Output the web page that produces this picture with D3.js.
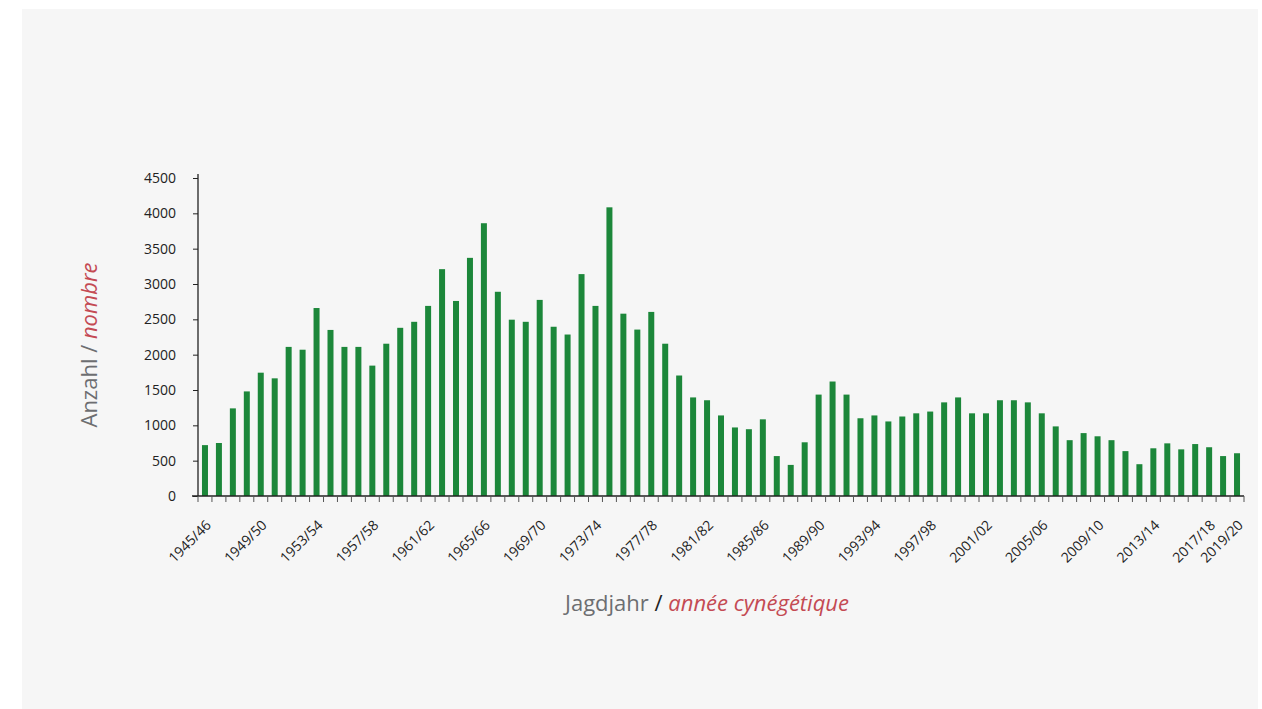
<!DOCTYPE html>
<html>
<head>
<meta charset="utf-8">
<script src="https://cdn.jsdelivr.net/npm/d3@7"></script>
<style>
  body { margin: 0; background: #fff; }
  svg { display: block; }
  text { font-family: "Open Sans", "DejaVu Sans", sans-serif; }
</style>
</head>
<body>
<svg id="chart" width="1262" height="709"></svg>
<script>
// hunting years 1945/46 .. 2019/20
const startYears = d3.range(1945, 2020);
const seasons = startYears.map(y => y + "/" + String((y + 1) % 100).padStart(2, "0"));

const counts = [
  720, 750, 1240, 1480, 1745, 1665, 2110, 2070, 2660, 2350,
  2110, 2110, 1845, 2155, 2380, 2465, 2690, 3210, 2760, 3370,
  3860, 2890, 2495, 2465, 2775, 2395, 2285, 3140, 2690, 4085,
  2580, 2355, 2605, 2155, 1705, 1395, 1355, 1140, 970, 945,
  1085, 565, 440, 760, 1435, 1620, 1435, 1100, 1140, 1055,
  1125, 1170, 1195, 1325, 1395, 1170, 1170, 1355, 1355, 1325,
  1170, 985, 790, 890, 845, 790, 635, 450, 675, 745,
  660, 735, 690, 565, 605
];

const yTicks = [0, 500, 1000, 1500, 2000, 2500, 3000, 3500, 4000, 4500];
const labelled = seasons.filter((s, i) => i % 4 === 0 || i === seasons.length - 1);

const svg = d3.select("#chart");

// panel
svg.append("rect")
  .attr("x", 22).attr("y", 9)
  .attr("width", 1236).attr("height", 700)
  .attr("fill", "#f6f6f6");

const plotLeft = 198, plotRight = 1244, plotTop = 178, plotBottom = 496;

const x = d3.scaleBand()
  .domain(seasons)
  .range([plotLeft, plotRight])
  .paddingInner(0.57)
  .paddingOuter(0.285);

const y = d3.scaleLinear()
  .domain([0, 4500])
  .range([plotBottom, plotTop]);

const step = x.step();

// bars
svg.append("g")
  .selectAll("rect")
  .data(counts)
  .join("rect")
  .attr("x", (d, i) => x(seasons[i]))
  .attr("y", d => y(d))
  .attr("width", x.bandwidth())
  .attr("height", d => y(0) - y(d))
  .attr("fill", "#1c873a");

// y axis
const yAxis = svg.append("g")
  .attr("transform", `translate(${plotLeft},0)`)
  .call(d3.axisLeft(y).tickValues(yTicks).tickFormat(d3.format("d")).tickSize(5).tickPadding(17));
yAxis.select(".domain").attr("stroke", "#222").attr("stroke-width", 1.3)
  .attr("d", `M0,${plotTop - 4}V${plotBottom}`);
yAxis.selectAll(".tick line").attr("stroke", "#222");
yAxis.selectAll(".tick text")
  .attr("fill", "#222")
  .style("font-size", "14px");

// x axis line and ticks at band boundaries
const xg = svg.append("g");
xg.append("line")
  .attr("x1", plotLeft - 6).attr("x2", plotRight)
  .attr("y1", plotBottom).attr("y2", plotBottom)
  .attr("stroke", "#222").attr("stroke-width", 1.3);
xg.selectAll("line.tk")
  .data(seasons.concat(["end"]))
  .join("line")
  .attr("class", "tk")
  .attr("x1", (d, i) => plotLeft + i * step)
  .attr("x2", (d, i) => plotLeft + i * step)
  .attr("y1", plotBottom).attr("y2", plotBottom + 6)
  .attr("stroke", "#555");

xg.selectAll("text")
  .data(labelled)
  .join("text")
  .attr("transform", d => `translate(${x(d) + x.bandwidth() / 2 + 7},${plotBottom + 30}) rotate(-45)`)
  .attr("text-anchor", "end")
  .attr("fill", "#222")
  .style("font-size", "14px")
  .text(d => d);

// axis titles
const yt = svg.append("text")
  .attr("transform", "translate(97,345) rotate(-90)")
  .attr("text-anchor", "middle")
  .style("font-size", "22px");
yt.append("tspan").attr("fill", "#6d6e71").text("Anzahl / ");
yt.append("tspan").attr("fill", "#c44a53").attr("font-style", "italic").text("nombre");

const xt = svg.append("text")
  .attr("x", 707).attr("y", 611)
  .attr("text-anchor", "middle")
  .style("font-size", "22px");
xt.append("tspan").attr("fill", "#6d6e71").text("Jagdjahr ");
xt.append("tspan").attr("fill", "#222").text("/ ");
xt.append("tspan").attr("fill", "#c44a53").attr("font-style", "italic").text("année cynégétique");
</script>
</body>
</html>
